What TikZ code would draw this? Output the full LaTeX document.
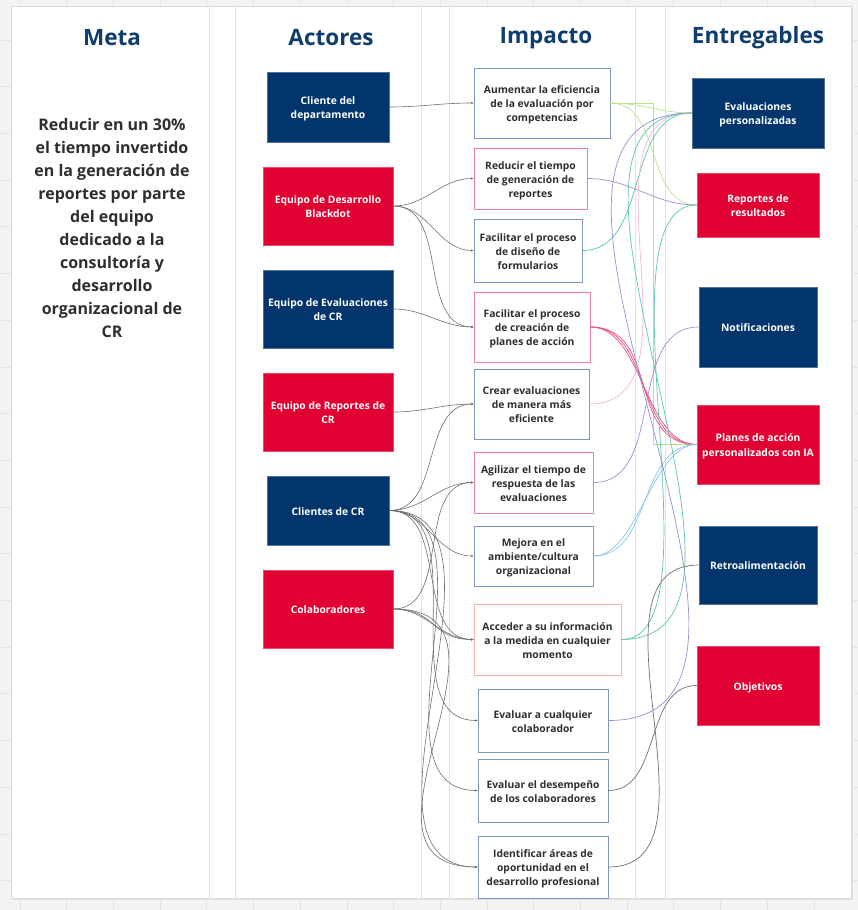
\documentclass[tikz,border=0pt]{standalone}
\usepackage{fontspec}
\setmainfont{Open Sans}
\usetikzlibrary{arrows.meta}
\definecolor{navy}{HTML}{02356B}
\definecolor{redc}{HTML}{E00032}
\definecolor{headc}{HTML}{0E3D6E}
\definecolor{txtc}{HTML}{2E2E2E}
\definecolor{bordblue}{HTML}{7D98BA}
\definecolor{bordpink}{HTML}{F0809C}
\definecolor{bordsalmon}{HTML}{F8B4A4}
\definecolor{gridc}{HTML}{E4E4E4}
\definecolor{bgc}{HTML}{F3F3F3}
\definecolor{sepc}{HTML}{E2E2E2}
\definecolor{lgreen}{HTML}{BCE28E}
\definecolor{lpurple}{HTML}{A98AD8}
\definecolor{lteal}{HTML}{5CC6AE}
\definecolor{lpink}{HTML}{F5B6DE}
\definecolor{lmag}{HTML}{E8507E}
\definecolor{lblue}{HTML}{86C6F0}
\definecolor{lperi}{HTML}{8E94D6}
\definecolor{lgrey}{HTML}{707070}
\newcommand\boxtxt[1]{\raisebox{-1.7pt}[\height][\depth]{\begin{tabular}{@{}c@{}}#1\end{tabular}}}
\begin{document}
\begin{tikzpicture}[x=1pt,y=-1pt,
  filled/.style={draw=#1!70!white, line width=0.6pt, fill=#1, text=white, inner sep=0pt,
    font=\bfseries\fontsize{10.3}{14.3}\selectfont},
  impbox/.style={draw=#1, line width=0.9pt, fill=white, text=txtc, inner sep=0pt,
    font=\bfseries\fontsize{10.3}{14}\selectfont},
  header/.style={text=headc, font=\bfseries\fontsize{22.5}{26}\selectfont},
  con/.style={draw=lgrey, line width=0.6pt, out=0, in=180, -{Stealth[length=2.5pt,width=2.2pt]}},
  ccon/.style={draw=#1, line width=0.7pt, out=0, in=180}
]
\useasboundingbox (0,0) rectangle (858,910);
% background grid
\fill[bgc] (0,0) rectangle (858,910);
\foreach \k in {0,...,18} {\draw[gridc, line width=0.8pt] ({20+46.7*\k},0) -- ({20+46.7*\k},910);}
\foreach \k in {0,...,18} {\draw[gridc, line width=0.8pt] (0,{40+46.7*\k}) -- (858,{40+46.7*\k});}
% main white frame
\fill[black!12] (12.5,7.5) rectangle (853,900);
\draw[fill=white, draw=black!14, line width=0.8pt] (11,6) rectangle (851,898);
\foreach \xx in {209,235,421,449,635,665} {\draw[sepc, line width=0.8pt] (\xx,6) -- (\xx,898);}
% headers
\node[header] (hmeta) at (112,38) {Meta};
\node[header] (hact) at (331,38) {Actores};
\node[header] (himp) at (546,38) {Impacto};
\node[header] (hent) at (758,38) {Entregables};
% meta text
\node[text=txtc, align=center, font=\bfseries\fontsize{16}{23}\selectfont] (meta) at (112,228)
 {Reducir en un 30\%\\el tiempo invertido\\en la generación de\\reportes por parte\\del equipo\\dedicado a la\\consultoría y\\desarrollo\\organizacional de\\CR};
% actors
\node[filled=navy, minimum width=122, minimum height=70] (a1) at (328,107) {\boxtxt{Cliente del\\departamento}};
\node[filled=redc, minimum width=130, minimum height=78] (a2) at (328,206) {\boxtxt{Equipo de Desarrollo\\Blackdot}};
\node[filled=navy, minimum width=130, minimum height=78] (a3) at (328,309) {\boxtxt{Equipo de Evaluaciones\\de CR}};
\node[filled=redc, minimum width=130, minimum height=78] (a4) at (328,412) {\boxtxt{Equipo de Reportes de\\CR}};
\node[filled=navy, minimum width=122, minimum height=69] (a5) at (328,510.5) {\boxtxt{Clientes de CR}};
\node[filled=redc, minimum width=130, minimum height=78] (a6) at (328,609) {\boxtxt{Colaboradores}};
% impacts
\node[impbox=bordblue, minimum width=136, minimum height=70] (i1) at (542,103) {\boxtxt{Aumentar la eficiencia\\de la evaluación por\\competencias}};
\node[impbox=bordpink, minimum width=113, minimum height=61] (i2) at (530.5,178.5) {\boxtxt{Reducir el tiempo\\de generación de\\reportes}};
\node[impbox=bordblue, minimum width=108, minimum height=63] (i3) at (528,250.5) {\boxtxt{Facilitar el proceso\\de diseño de\\formularios}};
\node[impbox=bordpink, minimum width=116, minimum height=70] (i4) at (532,327) {\boxtxt{Facilitar el proceso\\de creación de\\planes de acción}};
\node[impbox=bordblue, minimum width=115, minimum height=70] (i5) at (531.5,404) {\boxtxt{Crear evaluaciones\\de manera más\\eficiente}};
\node[impbox=bordpink, minimum width=119, minimum height=61] (i6) at (533.5,482.5) {\boxtxt{Agilizar el tiempo de\\respuesta de las\\evaluaciones}};
\node[impbox=bordblue, minimum width=119, minimum height=60] (i7) at (533.5,556) {\boxtxt{Mejora en el\\ambiente/cultura\\organizacional}};
\node[impbox=bordsalmon, minimum width=147, minimum height=71] (i8) at (547.5,639.5) {\boxtxt{Acceder a su información\\a la medida en cualquier\\momento}};
\node[impbox=bordblue, minimum width=130, minimum height=63] (i9) at (543,720.5) {\boxtxt{Evaluar a cualquier\\colaborador}};
\node[impbox=bordblue, minimum width=130, minimum height=63] (i10) at (543,790.5) {\boxtxt{Evaluar el desempeño\\de los colaboradores}};
\node[impbox=bordblue, minimum width=130, minimum height=62] (i11) at (543,867) {\boxtxt{Identificar áreas de\\oportunidad en el\\desarrollo profesional}};
% deliverables
\node[filled=navy, minimum width=132, minimum height=70] (d1) at (758,113) {\boxtxt{Evaluaciones\\personalizadas}};
\node[filled=redc, minimum width=122, minimum height=64] (d2) at (758,205) {\boxtxt{Reportes de\\resultados}};
\node[filled=navy, minimum width=118, minimum height=80] (d3) at (758,327) {\boxtxt{Notificaciones}};
\node[filled=redc, minimum width=122, minimum height=79] (d4) at (758,444.5) {\boxtxt{Planes de acción\\personalizados con IA}};
\node[filled=navy, minimum width=118, minimum height=78] (d5) at (758,565) {\boxtxt{Retroalimentación}};
\node[filled=redc, minimum width=122, minimum height=79] (d6) at (758,685.5) {\boxtxt{Objetivos}};
% actor -> impact connectors
\draw[con] (a1.east) to (i1.west);
\draw[con] (a2.east) to (i2.west);
\draw[con] (a2.east) to (i3.west);
\draw[con] (a2.east) to (i4.west);
\draw[con] (a3.east) to (i4.west);
\draw[con] (a4.east) to (i5.west);
\draw[con] (a5.east) to (i5.west);
\draw[con] (a5.east) to (i6.west);
\draw[con] (a5.east) to (i7.west);
\draw[con] (a5.east) to (i8.west);
\draw[con] (a5.east) to (i9.west);
\draw[con] (a5.east) to (i10.west);
\draw[con] (a5.east) to (i11.west);
\draw[con] (a6.east) to (i6.west);
\draw[con] (a6.east) to (i8.west);
\draw[con] (a6.east) to[looseness=1.3] (i8.west);
\draw[con] (a6.east) to[looseness=1.4] (i11.west);
% impact -> deliverable connectors
\coordinate (gcorner) at (653,103);
\draw[ccon=lgreen] (i1.east) to (d1.west);
\draw[ccon=lgreen] (i1.east) to (d2.west);
\draw[lgreen, line width=0.7pt] (i1.east) -- (gcorner) |- (d4.west);
\draw[ccon=lpurple] (i2.east) to (d2.west);
\draw[ccon=lteal] (i3.east) to (d1.west);
\draw[ccon=lmag] (i4.east) to (d4.west);
\draw[ccon=lmag] (i4.east) to[looseness=1.15] (d4.west);
\draw[ccon=lmag] (i4.east) to[looseness=0.85] (d4.west);
\draw[ccon=lpink] (i5.east) to (d1.west);
\draw[ccon=lpurple] (i6.east) to (d3.west);
\draw[ccon=lblue] (i7.east) to (d4.west);
\draw[ccon=lblue] (i7.east) to[looseness=0.75] (d4.west);
\draw[ccon=lteal] (i8.east) to[looseness=0.6] (d2.west);
\draw[ccon=lteal] (i8.east) to[looseness=0.9] (d1.west);
\draw[ccon=lperi] (i9.east) to (d1.west);
\draw[ccon=lgrey] (i10.east) to (d6.west);
\draw[ccon=lgrey] (i11.east) to (d5.west);
\end{tikzpicture}
\end{document}
